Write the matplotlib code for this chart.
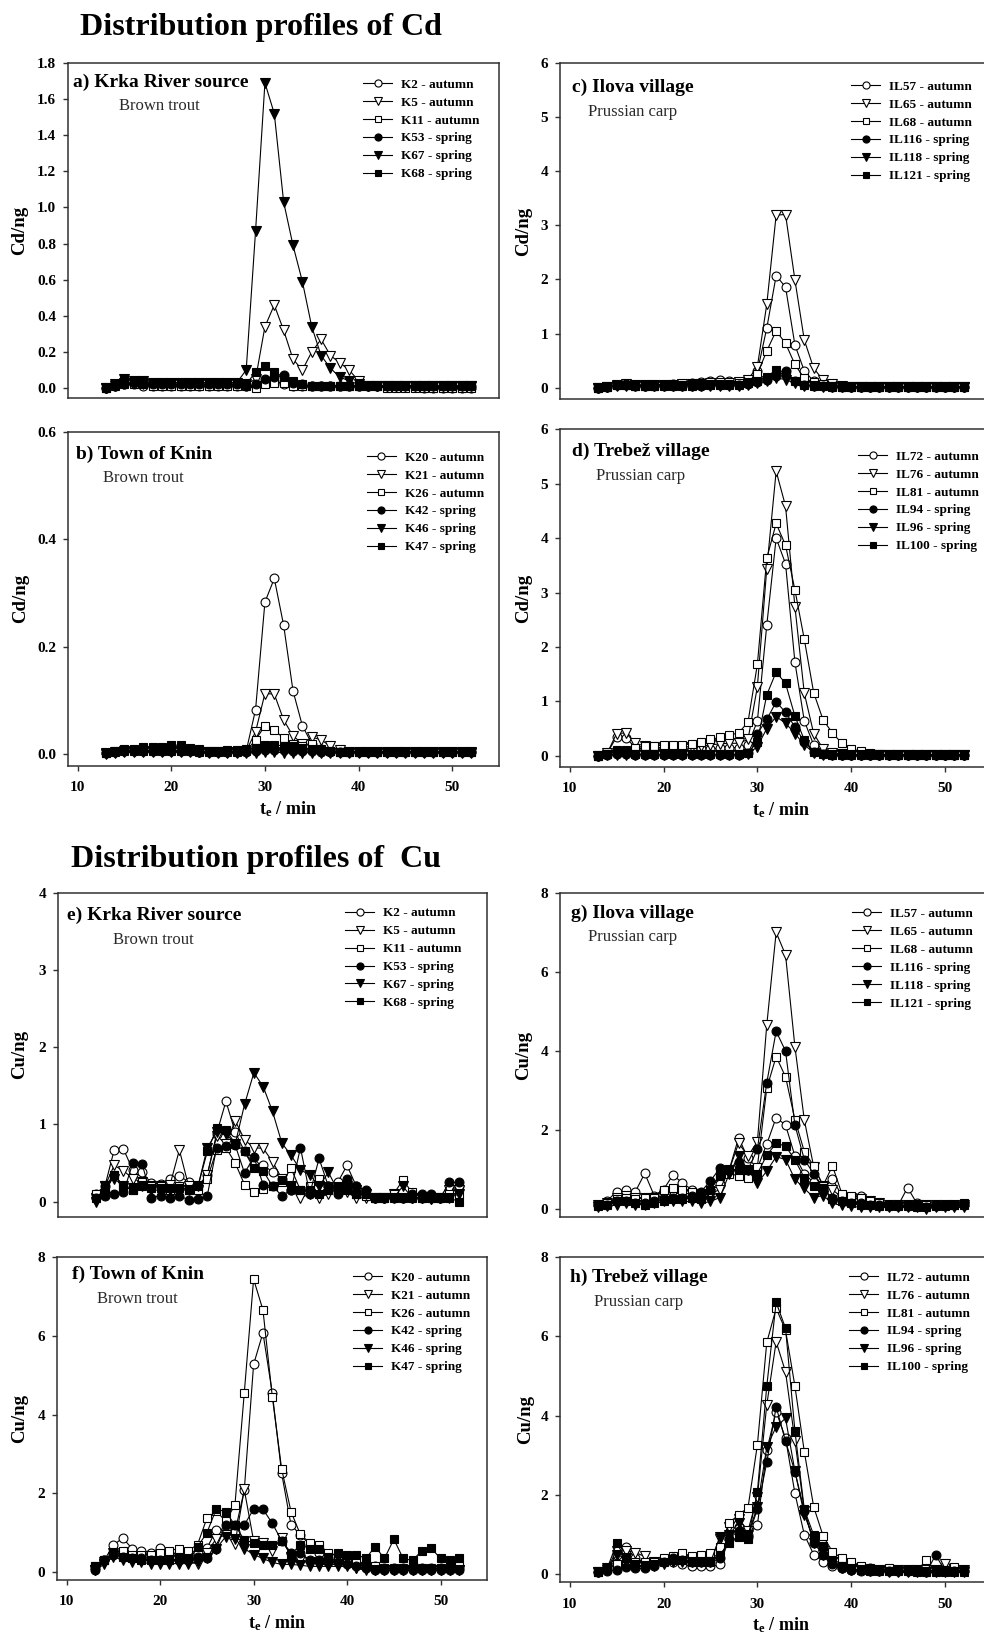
import matplotlib
matplotlib.use("Agg")
import matplotlib.pyplot as plt
from matplotlib.transforms import offset_copy
from matplotlib.ticker import FormatStrFormatter
import numpy as np

plt.rcParams["font.family"] = ["Liberation Serif", "DejaVu Serif"]
plt.rcParams["font.weight"] = "bold"
plt.rcParams["axes.labelweight"] = "bold"
plt.rcParams["mathtext.fontset"] = "custom"
plt.rcParams["mathtext.rm"] = "Liberation Serif:bold"
plt.rcParams["mathtext.bf"] = "Liberation Serif:bold"
plt.rcParams["mathtext.it"] = "Liberation Serif:italic:bold"

# elution time of the collected fractions (min)
time_min = np.arange(13, 53)

# ---------------- Cd ----------------
# a) Krka River source, brown trout
a_labels = ["K2 - autumn", "K5 - autumn", "K11 - autumn", "K53 - spring", "K67 - spring", "K68 - spring"]
a_K2 = [0.00, 0.01, 0.02, 0.02, 0.01, 0.01, 0.01, 0.01, 0.01, 0.01,
        0.01, 0.01, 0.01, 0.01, 0.01, 0.01, 0.01, 0.03, 0.04, 0.02,
        0.01, 0.01, 0.01, 0.01, 0.01, 0.01, 0.01, 0.01, 0.01, 0.01,
        0.01, 0.01, 0.01, 0.01, 0.00, 0.00, 0.00, 0.00, 0.00, 0.00]
a_K5 = [0.00, 0.01, 0.03, 0.03, 0.02, 0.02, 0.02, 0.02, 0.02, 0.02,
        0.02, 0.02, 0.02, 0.02, 0.02, 0.02, 0.05, 0.34, 0.46, 0.32,
        0.16, 0.10, 0.20, 0.27, 0.18, 0.14, 0.10, 0.04, 0.01, 0.01,
        0.01, 0.01, 0.01, 0.01, 0.01, 0.01, 0.01, 0.01, 0.01, 0.01]
a_K11 = [0.00, 0.01, 0.02, 0.02, 0.02, 0.01, 0.01, 0.01, 0.01, 0.01,
         0.01, 0.01, 0.01, 0.01, 0.01, 0.01, 0.00, 0.02, 0.03, 0.03,
         0.01, 0.01, 0.01, 0.01, 0.01, 0.01, 0.01, 0.01, 0.01, 0.01,
         0.00, 0.00, 0.00, 0.00, 0.00, 0.00, 0.00, 0.00, 0.00, 0.00]
a_K53 = [0.00, 0.01, 0.02, 0.03, 0.03, 0.02, 0.02, 0.02, 0.02, 0.02,
         0.02, 0.02, 0.02, 0.02, 0.02, 0.01, 0.02, 0.05, 0.06, 0.07,
         0.03, 0.02, 0.01, 0.01, 0.01, 0.01, 0.01, 0.01, 0.01, 0.01,
         0.01, 0.01, 0.01, 0.01, 0.01, 0.01, 0.01, 0.01, 0.01, 0.01]
a_K67 = [0.00, 0.02, 0.05, 0.04, 0.04, 0.03, 0.03, 0.03, 0.03, 0.03,
         0.03, 0.03, 0.03, 0.03, 0.03, 0.10, 0.87, 1.69, 1.52, 1.03,
         0.79, 0.59, 0.34, 0.18, 0.11, 0.06, 0.04, 0.02, 0.01, 0.01,
         0.01, 0.01, 0.01, 0.01, 0.01, 0.01, 0.01, 0.01, 0.01, 0.01]
a_K68 = [0.00, 0.02, 0.04, 0.04, 0.03, 0.03, 0.03, 0.03, 0.03, 0.03,
         0.03, 0.03, 0.03, 0.03, 0.03, 0.02, 0.09, 0.12, 0.09, 0.06,
         0.04, 0.02, 0.01, 0.01, 0.01, 0.01, 0.01, 0.01, 0.01, 0.01,
         0.01, 0.01, 0.01, 0.01, 0.01, 0.01, 0.01, 0.01, 0.01, 0.01]

# b) Town of Knin, brown trout
b_labels = ["K20 - autumn", "K21 - autumn", "K26 - autumn", "K42 - spring", "K46 - spring", "K47 - spring"]
b_K20 = [0.003, 0.005, 0.006, 0.006, 0.006, 0.006, 0.006, 0.006, 0.006, 0.006,
         0.005, 0.005, 0.005, 0.005, 0.005, 0.006, 0.083, 0.283, 0.327, 0.240,
         0.118, 0.053, 0.020, 0.010, 0.006, 0.005, 0.004, 0.004, 0.004, 0.004,
         0.004, 0.004, 0.004, 0.004, 0.004, 0.004, 0.004, 0.004, 0.004, 0.004]
b_K21 = [0.003, 0.005, 0.006, 0.006, 0.006, 0.006, 0.006, 0.006, 0.006, 0.006,
         0.005, 0.005, 0.005, 0.005, 0.005, 0.006, 0.042, 0.113, 0.112, 0.064,
         0.034, 0.020, 0.032, 0.027, 0.015, 0.008, 0.005, 0.004, 0.004, 0.004,
         0.004, 0.004, 0.004, 0.004, 0.004, 0.004, 0.004, 0.004, 0.004, 0.004]
b_K26 = [0.003, 0.005, 0.006, 0.006, 0.006, 0.006, 0.006, 0.006, 0.006, 0.006,
         0.005, 0.005, 0.005, 0.005, 0.005, 0.006, 0.027, 0.053, 0.045, 0.030,
         0.020, 0.015, 0.020, 0.010, 0.006, 0.005, 0.004, 0.004, 0.004, 0.004,
         0.004, 0.004, 0.004, 0.004, 0.004, 0.004, 0.004, 0.004, 0.004, 0.004]
b_K42 = [0.002, 0.004, 0.006, 0.007, 0.007, 0.007, 0.007, 0.006, 0.006, 0.006,
         0.005, 0.004, 0.004, 0.005, 0.005, 0.005, 0.006, 0.008, 0.008, 0.008,
         0.007, 0.006, 0.006, 0.005, 0.005, 0.005, 0.004, 0.004, 0.004, 0.004,
         0.004, 0.005, 0.005, 0.004, 0.004, 0.004, 0.004, 0.004, 0.004, 0.004]
b_K46 = [0.001, 0.003, 0.004, 0.004, 0.004, 0.004, 0.004, 0.004, 0.004, 0.004,
         0.004, 0.003, 0.003, 0.003, 0.003, 0.003, 0.003, 0.004, 0.004, 0.003,
         0.003, 0.003, 0.003, 0.003, 0.003, 0.003, 0.003, 0.003, 0.003, 0.003,
         0.003, 0.003, 0.003, 0.003, 0.003, 0.003, 0.003, 0.003, 0.003, 0.003]
b_K47 = [0.002, 0.006, 0.010, 0.010, 0.013, 0.013, 0.013, 0.017, 0.017, 0.012,
         0.010, 0.007, 0.007, 0.008, 0.008, 0.010, 0.012, 0.018, 0.017, 0.016,
         0.015, 0.012, 0.010, 0.008, 0.006, 0.005, 0.005, 0.004, 0.004, 0.004,
         0.004, 0.004, 0.004, 0.004, 0.004, 0.004, 0.004, 0.004, 0.004, 0.004]

# c) Ilova village, Prussian carp
c_labels = ["IL57 - autumn", "IL65 - autumn", "IL68 - autumn", "IL116 - spring", "IL118 - spring", "IL121 - spring"]
c_IL57 = [0.00, 0.02, 0.05, 0.05, 0.04, 0.04, 0.05, 0.05, 0.06, 0.07,
          0.08, 0.10, 0.13, 0.14, 0.12, 0.10, 0.15, 0.30, 1.10, 2.07,
          1.86, 0.79, 0.31, 0.12, 0.06, 0.04, 0.03, 0.02, 0.02, 0.02,
          0.02, 0.02, 0.02, 0.02, 0.02, 0.02, 0.02, 0.02, 0.02, 0.02]
c_IL65 = [0.00, 0.02, 0.05, 0.06, 0.05, 0.05, 0.05, 0.05, 0.05, 0.06,
          0.06, 0.07, 0.08, 0.08, 0.08, 0.10, 0.15, 0.39, 1.54, 3.19,
          3.20, 1.99, 0.88, 0.36, 0.14, 0.07, 0.03, 0.02, 0.02, 0.02,
          0.02, 0.02, 0.02, 0.02, 0.02, 0.02, 0.02, 0.02, 0.02, 0.02]
c_IL68 = [0.00, 0.02, 0.05, 0.05, 0.04, 0.04, 0.04, 0.05, 0.05, 0.05,
          0.06, 0.06, 0.07, 0.07, 0.07, 0.08, 0.10, 0.25, 0.68, 1.05,
          0.82, 0.43, 0.17, 0.10, 0.06, 0.03, 0.02, 0.02, 0.02, 0.02,
          0.02, 0.02, 0.02, 0.02, 0.02, 0.02, 0.02, 0.02, 0.02, 0.02]
c_IL116 = [0.00, 0.02, 0.05, 0.06, 0.05, 0.04, 0.04, 0.04, 0.04, 0.04,
           0.04, 0.04, 0.05, 0.05, 0.05, 0.05, 0.06, 0.10, 0.15, 0.22,
           0.30, 0.12, 0.05, 0.04, 0.03, 0.02, 0.02, 0.02, 0.02, 0.02,
           0.02, 0.02, 0.02, 0.02, 0.02, 0.02, 0.02, 0.02, 0.02, 0.02]
c_IL118 = [0.00, 0.02, 0.04, 0.04, 0.04, 0.04, 0.04, 0.04, 0.04, 0.04,
           0.04, 0.04, 0.04, 0.04, 0.04, 0.04, 0.05, 0.08, 0.12, 0.18,
           0.15, 0.08, 0.04, 0.03, 0.02, 0.02, 0.02, 0.02, 0.02, 0.02,
           0.02, 0.02, 0.02, 0.02, 0.02, 0.02, 0.02, 0.02, 0.02, 0.02]
c_IL121 = [0.00, 0.02, 0.05, 0.05, 0.04, 0.04, 0.04, 0.04, 0.04, 0.04,
           0.04, 0.05, 0.05, 0.05, 0.05, 0.05, 0.08, 0.12, 0.20, 0.33,
           0.28, 0.12, 0.05, 0.04, 0.03, 0.02, 0.02, 0.02, 0.02, 0.02,
           0.02, 0.02, 0.02, 0.02, 0.02, 0.02, 0.02, 0.02, 0.02, 0.02]

# d) Trebez village, Prussian carp
d_labels = ["IL72 - autumn", "IL76 - autumn", "IL81 - autumn", "IL94 - spring", "IL96 - spring", "IL100 - spring"]
d_IL72 = [0.00, 0.05, 0.35, 0.33, 0.15, 0.12, 0.12, 0.12, 0.12, 0.12,
          0.12, 0.12, 0.13, 0.14, 0.15, 0.15, 0.20, 0.64, 2.40, 4.00,
          3.53, 1.72, 0.64, 0.20, 0.07, 0.04, 0.02, 0.01, 0.01, 0.01,
          0.01, 0.01, 0.01, 0.01, 0.01, 0.01, 0.01, 0.01, 0.01, 0.01]
d_IL76 = [0.00, 0.05, 0.41, 0.42, 0.23, 0.18, 0.16, 0.15, 0.15, 0.16,
          0.17, 0.18, 0.20, 0.22, 0.23, 0.23, 0.30, 1.27, 3.44, 5.23,
          4.59, 2.74, 1.15, 0.41, 0.13, 0.06, 0.03, 0.02, 0.01, 0.01,
          0.01, 0.01, 0.01, 0.01, 0.01, 0.01, 0.01, 0.01, 0.01, 0.01]
d_IL81 = [0.00, 0.03, 0.08, 0.10, 0.15, 0.18, 0.18, 0.20, 0.20, 0.20,
          0.22, 0.25, 0.30, 0.34, 0.38, 0.42, 0.62, 1.68, 3.63, 4.27,
          3.87, 3.05, 2.14, 1.16, 0.66, 0.42, 0.23, 0.12, 0.09, 0.05,
          0.03, 0.02, 0.02, 0.02, 0.02, 0.02, 0.02, 0.02, 0.02, 0.02]
d_IL94 = [0.00, 0.01, 0.03, 0.03, 0.02, 0.02, 0.02, 0.02, 0.02, 0.02,
          0.02, 0.02, 0.02, 0.02, 0.02, 0.02, 0.05, 0.41, 0.67, 0.99,
          0.80, 0.53, 0.26, 0.07, 0.03, 0.02, 0.02, 0.02, 0.02, 0.02,
          0.02, 0.02, 0.02, 0.02, 0.02, 0.02, 0.02, 0.02, 0.02, 0.02]
d_IL96 = [0.00, 0.01, 0.02, 0.02, 0.02, 0.02, 0.02, 0.02, 0.02, 0.02,
          0.02, 0.02, 0.02, 0.02, 0.02, 0.02, 0.03, 0.17, 0.50, 0.72,
          0.60, 0.41, 0.20, 0.06, 0.02, 0.02, 0.02, 0.02, 0.02, 0.02,
          0.02, 0.02, 0.02, 0.02, 0.02, 0.02, 0.02, 0.02, 0.02, 0.02]
d_IL100 = [0.00, 0.03, 0.10, 0.08, 0.04, 0.03, 0.03, 0.03, 0.03, 0.03,
           0.03, 0.03, 0.03, 0.03, 0.03, 0.03, 0.05, 0.26, 1.12, 1.54,
           1.33, 0.73, 0.29, 0.07, 0.03, 0.02, 0.02, 0.02, 0.02, 0.02,
           0.02, 0.02, 0.02, 0.02, 0.02, 0.02, 0.02, 0.02, 0.02, 0.02]

# ---------------- Cu ----------------
# e) Krka River source, brown trout
e_K2 = [0.10, 0.20, 0.67, 0.68, 0.41, 0.38, 0.24, 0.23, 0.30, 0.33,
        0.26, 0.20, 0.35, 0.88, 1.30, 0.90, 0.65, 0.47, 0.47, 0.39,
        0.30, 0.15, 0.12, 0.15, 0.25, 0.20, 0.25, 0.47, 0.20, 0.08,
        0.05, 0.05, 0.08, 0.05, 0.05, 0.05, 0.05, 0.05, 0.15, 0.20]
e_K5 = [0.05, 0.20, 0.47, 0.40, 0.30, 0.25, 0.20, 0.20, 0.22, 0.67,
        0.20, 0.15, 0.35, 0.85, 0.75, 1.05, 0.80, 0.70, 0.69, 0.52,
        0.30, 0.20, 0.05, 0.10, 0.05, 0.10, 0.15, 0.12, 0.05, 0.05,
        0.05, 0.05, 0.10, 0.05, 0.05, 0.05, 0.03, 0.05, 0.15, 0.15]
e_K11 = [0.10, 0.20, 0.35, 0.20, 0.15, 0.25, 0.20, 0.20, 0.15, 0.20,
         0.15, 0.15, 0.30, 0.67, 0.70, 0.50, 0.22, 0.13, 0.17, 0.20,
         0.25, 0.43, 0.15, 0.20, 0.30, 0.20, 0.15, 0.20, 0.10, 0.08,
         0.05, 0.05, 0.10, 0.28, 0.12, 0.05, 0.05, 0.05, 0.10, 0.10]
e_K53 = [0.05, 0.07, 0.10, 0.12, 0.50, 0.49, 0.05, 0.08, 0.05, 0.08,
         0.02, 0.03, 0.08, 0.70, 0.72, 0.73, 0.37, 0.58, 0.22, 0.20,
         0.08, 0.15, 0.70, 0.10, 0.56, 0.20, 0.10, 0.30, 0.20, 0.15,
         0.05, 0.05, 0.05, 0.05, 0.10, 0.10, 0.10, 0.05, 0.25, 0.25]
e_K67 = [0.00, 0.20, 0.30, 0.20, 0.18, 0.20, 0.15, 0.15, 0.15, 0.15,
         0.15, 0.20, 0.70, 0.90, 0.88, 0.75, 1.26, 1.67, 1.49, 1.17,
         0.76, 0.60, 0.41, 0.35, 0.20, 0.38, 0.15, 0.20, 0.15, 0.10,
         0.05, 0.05, 0.05, 0.20, 0.05, 0.05, 0.03, 0.05, 0.05, 0.10]
e_K68 = [0.05, 0.15, 0.35, 0.20, 0.15, 0.20, 0.18, 0.18, 0.18, 0.18,
         0.15, 0.20, 0.65, 0.95, 0.93, 0.75, 0.65, 0.43, 0.40, 0.20,
         0.28, 0.20, 0.15, 0.15, 0.10, 0.15, 0.20, 0.15, 0.10, 0.10,
         0.05, 0.05, 0.05, 0.05, 0.05, 0.05, 0.05, 0.05, 0.05, 0.00]

# f) Town of Knin, brown trout
f_K20 = [0.10, 0.30, 0.69, 0.87, 0.60, 0.55, 0.50, 0.62, 0.50, 0.45,
         0.45, 0.50, 0.61, 1.07, 1.10, 1.01, 2.08, 5.27, 6.07, 4.54,
         2.51, 1.20, 0.95, 0.70, 0.50, 0.35, 0.30, 0.25, 0.20, 0.15,
         0.15, 0.10, 0.10, 0.10, 0.10, 0.10, 0.10, 0.10, 0.10, 0.10]
f_K21 = [0.05, 0.25, 0.50, 0.45, 0.35, 0.35, 0.30, 0.30, 0.30, 0.30,
         0.30, 0.20, 0.50, 0.85, 0.95, 0.72, 2.10, 0.80, 0.75, 0.55,
         0.86, 0.40, 0.30, 0.25, 0.20, 0.20, 0.20, 0.20, 0.10, 0.05,
         0.05, 0.05, 0.05, 0.05, 0.05, 0.05, 0.05, 0.05, 0.05, 0.05]
f_K26 = [0.15, 0.30, 0.50, 0.55, 0.45, 0.45, 0.45, 0.50, 0.55, 0.60,
         0.55, 0.70, 1.37, 1.55, 1.30, 1.70, 4.54, 7.43, 6.65, 4.45,
         2.62, 1.54, 0.96, 0.75, 0.69, 0.50, 0.40, 0.35, 0.30, 0.20,
         0.15, 0.10, 0.10, 0.10, 0.15, 0.10, 0.10, 0.10, 0.10, 0.15]
f_K42 = [0.05, 0.30, 0.45, 0.40, 0.35, 0.35, 0.30, 0.30, 0.30, 0.30,
         0.30, 0.40, 0.35, 0.60, 1.20, 1.20, 1.20, 1.60, 1.60, 1.24,
         0.80, 0.50, 0.50, 0.30, 0.30, 0.25, 0.25, 0.20, 0.15, 0.10,
         0.05, 0.05, 0.05, 0.05, 0.05, 0.05, 0.05, 0.05, 0.05, 0.05]
f_K46 = [0.05, 0.20, 0.40, 0.30, 0.25, 0.25, 0.22, 0.22, 0.22, 0.22,
         0.22, 0.25, 0.35, 0.60, 0.90, 0.85, 0.60, 0.45, 0.35, 0.25,
         0.20, 0.20, 0.18, 0.15, 0.15, 0.15, 0.15, 0.15, 0.10, 0.10,
         0.05, 0.05, 0.05, 0.05, 0.05, 0.05, 0.05, 0.05, 0.05, 0.05]
f_K47 = [0.15, 0.30, 0.50, 0.40, 0.35, 0.30, 0.30, 0.30, 0.30, 0.35,
         0.35, 0.65, 1.00, 1.60, 1.54, 1.20, 0.82, 0.75, 0.70, 0.68,
         0.80, 0.45, 0.70, 0.60, 0.60, 0.40, 0.50, 0.45, 0.45, 0.35,
         0.65, 0.35, 0.84, 0.35, 0.30, 0.55, 0.61, 0.35, 0.30, 0.35]

# g) Ilova village, Prussian carp
g_IL57 = [0.10, 0.22, 0.45, 0.48, 0.45, 0.91, 0.35, 0.50, 0.87, 0.67,
          0.50, 0.40, 0.45, 0.65, 1.00, 1.81, 1.29, 1.04, 1.65, 2.32,
          2.13, 1.35, 0.90, 0.68, 0.50, 0.77, 0.35, 0.30, 0.35, 0.20,
          0.15, 0.10, 0.10, 0.55, 0.15, 0.10, 0.10, 0.10, 0.12, 0.10]
g_IL65 = [0.10, 0.15, 0.30, 0.35, 0.30, 0.30, 0.30, 0.35, 0.40, 0.40,
          0.40, 0.40, 0.40, 0.50, 1.00, 1.67, 1.35, 1.71, 4.66, 7.00,
          6.43, 4.11, 2.26, 1.08, 0.60, 0.50, 0.30, 0.30, 0.25, 0.20,
          0.15, 0.12, 0.10, 0.10, 0.10, 0.10, 0.10, 0.10, 0.10, 0.10]
g_IL68 = [0.10, 0.15, 0.25, 0.30, 0.25, 0.30, 0.30, 0.50, 0.55, 0.50,
          0.45, 0.40, 0.50, 0.90, 0.90, 0.85, 0.80, 1.08, 3.06, 3.86,
          3.35, 2.27, 1.46, 1.10, 0.60, 1.10, 0.40, 0.35, 0.30, 0.20,
          0.15, 0.12, 0.10, 0.10, 0.10, 0.10, 0.10, 0.10, 0.10, 0.10]
g_IL116 = [0.10, 0.10, 0.20, 0.20, 0.15, 0.15, 0.20, 0.25, 0.30, 0.30,
           0.35, 0.45, 0.72, 1.04, 1.00, 1.20, 1.00, 1.52, 3.20, 4.50,
           4.00, 2.13, 1.26, 0.90, 0.50, 0.30, 0.20, 0.15, 0.15, 0.10,
           0.10, 0.08, 0.08, 0.08, 0.08, 0.05, 0.08, 0.10, 0.10, 0.10]
g_IL118 = [0.05, 0.08, 0.12, 0.15, 0.12, 0.12, 0.15, 0.20, 0.20, 0.20,
           0.20, 0.15, 0.20, 0.30, 0.90, 1.35, 1.00, 0.66, 0.97, 1.33,
           1.26, 0.76, 0.53, 0.30, 0.35, 0.15, 0.10, 0.08, 0.05, 0.05,
           0.05, 0.05, 0.05, 0.05, 0.05, 0.02, 0.05, 0.05, 0.05, 0.05]
g_IL121 = [0.08, 0.10, 0.20, 0.20, 0.15, 0.12, 0.15, 0.20, 0.25, 0.25,
           0.30, 0.25, 0.50, 0.85, 1.00, 1.00, 1.00, 0.90, 1.37, 1.67,
           1.60, 1.25, 0.80, 0.60, 0.55, 0.25, 0.20, 0.15, 0.10, 0.10,
           0.08, 0.08, 0.08, 0.08, 0.05, 0.05, 0.08, 0.08, 0.10, 0.15]

# h) Trebez village, Prussian carp
h_IL72 = [0.05, 0.15, 0.50, 0.68, 0.40, 0.30, 0.25, 0.30, 0.30, 0.25,
          0.20, 0.20, 0.20, 0.25, 0.90, 1.20, 1.00, 1.24, 3.13, 4.10,
          3.43, 2.04, 1.00, 0.50, 0.32, 0.20, 0.15, 0.10, 0.08, 0.08,
          0.08, 0.08, 0.08, 0.08, 0.08, 0.08, 0.08, 0.20, 0.08, 0.08]
h_IL76 = [0.05, 0.15, 0.60, 0.60, 0.55, 0.45, 0.30, 0.30, 0.35, 0.35,
          0.35, 0.35, 0.35, 0.90, 1.20, 1.40, 1.10, 1.96, 4.27, 5.86,
          5.10, 3.37, 1.60, 0.80, 0.50, 0.30, 0.20, 0.15, 0.10, 0.10,
          0.10, 0.10, 0.10, 0.10, 0.10, 0.10, 0.10, 0.25, 0.10, 0.10]
h_IL81 = [0.05, 0.15, 0.25, 0.25, 0.30, 0.30, 0.30, 0.40, 0.45, 0.55,
          0.45, 0.50, 0.55, 0.70, 1.30, 1.50, 1.68, 3.26, 5.84, 6.70,
          6.15, 4.74, 3.09, 1.70, 0.97, 0.57, 0.40, 0.30, 0.20, 0.15,
          0.10, 0.15, 0.10, 0.10, 0.10, 0.35, 0.10, 0.10, 0.18, 0.10]
h_IL94 = [0.05, 0.08, 0.12, 0.18, 0.15, 0.15, 0.20, 0.30, 0.40, 0.35,
          0.30, 0.30, 0.30, 0.40, 0.90, 1.10, 0.95, 1.64, 2.82, 4.22,
          3.35, 2.59, 1.60, 0.80, 0.50, 0.25, 0.15, 0.12, 0.10, 0.15,
          0.10, 0.08, 0.08, 0.08, 0.08, 0.05, 0.49, 0.08, 0.08, 0.08]
h_IL96 = [0.05, 0.10, 0.50, 0.40, 0.20, 0.20, 0.20, 0.25, 0.30, 0.30,
          0.30, 0.30, 0.30, 0.95, 1.00, 1.30, 1.00, 1.70, 3.20, 3.72,
          3.93, 2.60, 1.50, 0.90, 0.60, 0.30, 0.15, 0.10, 0.10, 0.08,
          0.08, 0.05, 0.05, 0.05, 0.05, 0.05, 0.05, 0.05, 0.05, 0.05]
h_IL100 = [0.05, 0.15, 0.78, 0.40, 0.25, 0.20, 0.25, 0.30, 0.35, 0.35,
           0.30, 0.30, 0.30, 0.50, 0.80, 0.95, 0.90, 2.08, 4.74, 6.85,
           6.20, 3.61, 1.64, 0.99, 0.71, 0.30, 0.20, 0.15, 0.10, 0.08,
           0.08, 0.08, 0.08, 0.08, 0.05, 0.05, 0.05, 0.05, 0.05, 0.05]

# ---------------- layout ----------------
W, H = 984, 1634
fig = plt.figure(figsize=(W / 100, H / 100), dpi=100)

MARKERS = ["o", "v", "s", "o", "v", "s"]
FACES = ["white", "white", "white", "black", "black", "black"]
MSIZE = {"o": 6.4, "v": 7.2, "s": 5.9}
SPINE = "#303030"

panels = [
    # rect px (left, right, top, bottom), ylim, yticks, fmt, ylabel, bottom ticks,
    # title, subtitle, title offset, subtitle offset, legend offset, ylabel offset
    dict(rect=(68.3, 499, 63, 398), ylim=(-0.055, 1.8), yticks=np.arange(0, 1.81, 0.2), fmt="%.1f",
         ylabel="Cd/ng", xt=False, title="a) Krka River source", sub="Brown trout",
         t_off=(4.4, 12), s_off=(51, 36), l_off=(294.7, 20), yl=48.3,
         labels=a_labels, series=[a_K2, a_K5, a_K11, a_K53, a_K67, a_K68]),
    dict(rect=(68.3, 499, 431.7, 765.7), ylim=(-0.0212, 0.6), yticks=[0, 0.2, 0.4, 0.6], fmt="%.1f",
         ylabel="Cd/ng", xt=True, title="b) Town of Knin", sub="Brown trout",
         t_off=(8, 15), s_off=(35, 39), l_off=(298.4, 24.3), yl=47.6,
         labels=b_labels, series=[b_K20, b_K21, b_K26, b_K42, b_K46, b_K47]),
    dict(rect=(560.3, 992, 63, 399), ylim=(-0.209, 6), yticks=range(0, 7), fmt="%d",
         ylabel="Cd/ng", xt=False, title="c) Ilova village", sub="Prussian carp",
         t_off=(12, 17), s_off=(27.4, 42), l_off=(290.7, 22), yl=36.6,
         labels=c_labels, series=[c_IL57, c_IL65, c_IL68, c_IL116, c_IL118, c_IL121]),
    dict(rect=(560.3, 992, 429.3, 766.7), ylim=(-0.2, 6), yticks=range(0, 7), fmt="%d",
         ylabel="Cd/ng", xt=True, title="d) Trebež village", sub="Prussian carp",
         t_off=(12, 14), s_off=(35.7, 40), l_off=(297.7, 25.7), yl=36.6,
         labels=d_labels, series=[d_IL72, d_IL76, d_IL81, d_IL94, d_IL96, d_IL100]),
    dict(rect=(58.3, 486.7, 892.7, 1216.7), ylim=(-0.194, 4), yticks=range(0, 5), fmt="%d",
         ylabel="Cu/ng", xt=False, title="e) Krka River source", sub="Brown trout",
         t_off=(8.4, 15), s_off=(54.4, 40.6), l_off=(286.7, 19), yl=38.3,
         labels=a_labels, series=[e_K2, e_K5, e_K11, e_K53, e_K67, e_K68]),
    dict(rect=(57.3, 487.3, 1256.7, 1580), ylim=(-0.195, 8), yticks=range(0, 9, 2), fmt="%d",
         ylabel="Cu/ng", xt=True, title="f) Town of Knin", sub="Brown trout",
         t_off=(14.4, 10), s_off=(39.4, 35), l_off=(295.7, 19.3), yl=37.3,
         labels=b_labels, series=[f_K20, f_K21, f_K26, f_K42, f_K46, f_K47]),
    dict(rect=(560.3, 992, 892.7, 1217.3), ylim=(-0.2, 8), yticks=range(0, 9, 2), fmt="%d",
         ylabel="Cu/ng", xt=False, title="g) Ilova village", sub="Prussian carp",
         t_off=(11, 13), s_off=(27.4, 37), l_off=(291.7, 19.6), yl=36.6,
         labels=c_labels, series=[g_IL57, g_IL65, g_IL68, g_IL116, g_IL118, g_IL121]),
    dict(rect=(560.3, 992, 1256.7, 1582.3), ylim=(-0.2, 8), yticks=range(0, 9, 2), fmt="%d",
         ylabel="Cu/ng", xt=True, title="h) Trebež village", sub="Prussian carp",
         t_off=(10, 13), s_off=(33.4, 38), l_off=(288.7, 19.3), yl=35.0,
         labels=d_labels, series=[h_IL72, h_IL76, h_IL81, h_IL94, h_IL96, h_IL100]),
]

for p in panels:
    l, r, t, b = p["rect"]
    ax = fig.add_axes([l / W, 1 - b / H, (r - l) / W, (b - t) / H])
    for ys, lab, m, fc in zip(p["series"], p["labels"], MARKERS, FACES):
        ax.plot(time_min, ys, color="black", lw=0.8, marker=m, ms=MSIZE[m],
                mfc=fc, mec="black", mew=0.8, label=lab)
    ax.set_xlim(9, 55)
    ax.set_ylim(*p["ylim"])
    ax.set_yticks(p["yticks"])
    ax.yaxis.set_major_formatter(FormatStrFormatter(p["fmt"]))
    ax.set_xticks([10, 20, 30, 40, 50])
    for s in ax.spines.values():
        s.set_color(SPINE)
        s.set_linewidth(1.1)
    ax.tick_params(axis="y", direction="out", length=3.6, width=1.0, color=SPINE,
                   labelsize=11, pad=5)
    if p["xt"]:
        ax.tick_params(axis="x", direction="out", length=3.6, width=1.0, color=SPINE,
                       labelsize=11, pad=7.5)
        ax.set_xlabel(r"$\mathregular{t_e}$ / min", fontsize=13, fontweight="bold", va="center")
        ax.xaxis.set_label_coords(0.51, -43 / (b - t))
    else:
        ax.tick_params(axis="x", length=0, labelbottom=False)

    ax.set_ylabel(p["ylabel"], fontsize=13.5, fontweight="bold", va="center")
    ax.yaxis.set_label_coords(-p["yl"] / (r - l), 0.5)

    tx, ty = p["t_off"]
    ax.annotate(p["title"], xy=(0, 1), xycoords="axes fraction",
                xytext=(tx, -(ty - 1)), textcoords="offset pixels",
                ha="left", va="top", fontsize=14, fontweight="bold")
    sx, sy = p["s_off"]
    ax.annotate(p["sub"], xy=(0, 1), xycoords="axes fraction",
                xytext=(sx, -(sy - 1)), textcoords="offset pixels",
                ha="left", va="top", fontsize=12, fontweight="normal", color="#2a2a2a")

    lx, ly = p["l_off"]
    ax.legend(loc="upper left", bbox_to_anchor=(0, 1),
              bbox_transform=offset_copy(ax.transAxes, fig=fig, x=lx, y=-(ly - 4.5), units="dots"),
              frameon=False, fontsize=9.5, handlelength=2.2, handletextpad=0.7,
              labelspacing=0.43, borderpad=0, borderaxespad=0, markerscale=0.8)

fig.text(80 / W, 1 - 35 / H, "Distribution profiles of Cd", ha="left", va="baseline",
         fontsize=23, fontweight="bold")
fig.text(70.7 / W, 1 - 866.7 / H, "Distribution profiles of  Cu", ha="left", va="baseline",
         fontsize=23, fontweight="bold")

fig.savefig("out.png", dpi=100)
